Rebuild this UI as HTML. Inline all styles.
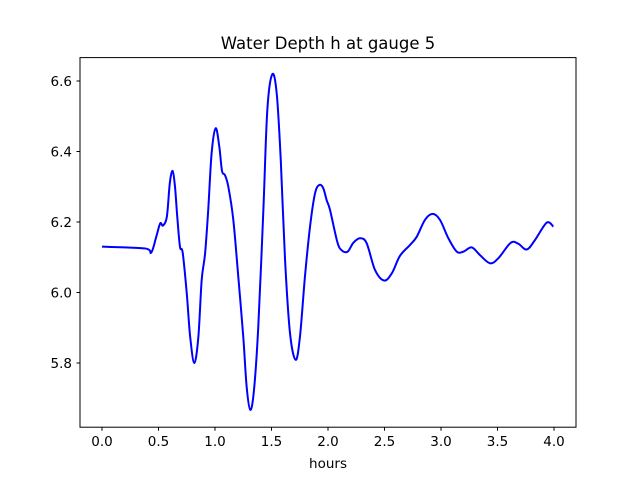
<!DOCTYPE html>
<html><head><meta charset="utf-8"><style>
body{margin:0;background:#fff}
svg text{font-family:"DejaVu Sans","Liberation Sans",sans-serif;fill:#000}
</style></head><body>
<svg width="640" height="480" viewBox="0 0 640 480">
<rect width="640" height="480" fill="#fff"/>
<text x="328" y="49" font-size="16.5" text-anchor="middle">Water Depth h at gauge 5</text>
<g id="axes"></g>
<path id="line" fill="none" stroke="#0000ff" stroke-width="2" stroke-linejoin="round"/>
<rect x="80" y="57.6" width="496" height="369.6" fill="none" stroke="#000" stroke-width="1"/>
<text x="328" y="468" font-size="13.5" text-anchor="middle">hours</text>
</svg>
<script>
const hours=[0,0.38,0.435,0.48,0.515,0.54,0.574,0.6,0.625,0.646,0.666,0.69,0.714,0.75,0.78,0.817,0.853,0.882,0.912,0.94,0.97,1.006,1.038,1.062,1.088,1.118,1.162,1.206,1.25,1.28,1.312,1.345,1.383,1.428,1.463,1.507,1.546,1.582,1.62,1.664,1.714,1.752,1.796,1.841,1.885,1.923,1.958,1.988,2.018,2.082,2.12,2.174,2.224,2.283,2.342,2.416,2.496,2.564,2.637,2.726,2.785,2.858,2.926,2.991,3.065,3.139,3.198,3.272,3.345,3.434,3.507,3.617,3.685,3.759,3.832,3.935,3.994];
const depth=[6.130,6.125,6.113,6.158,6.196,6.19,6.215,6.31,6.345,6.30,6.215,6.13,6.113,5.998,5.875,5.80,5.875,6.035,6.11,6.234,6.395,6.466,6.414,6.345,6.333,6.30,6.206,6.045,5.875,5.733,5.667,5.723,5.903,6.234,6.518,6.619,6.565,6.376,6.092,5.884,5.809,5.875,6.045,6.187,6.281,6.305,6.296,6.262,6.234,6.144,6.12,6.116,6.141,6.154,6.14,6.064,6.034,6.054,6.104,6.135,6.158,6.206,6.223,6.206,6.154,6.116,6.116,6.128,6.106,6.083,6.097,6.141,6.138,6.122,6.149,6.198,6.187];
const xTicks=[0,0.5,1,1.5,2,2.5,3,3.5,4];
const xTickLabels=["0.0","0.5","1.0","1.5","2.0","2.5","3.0","3.5","4.0"];
const yTicks=[5.8,6.0,6.2,6.4,6.6];
const yTickLabels=["5.8","6.0","6.2","6.4","6.6"];
const X=t=>102+t*113, Y=v=>292.5-(v-6.0)*352.5;
const NS="http://www.w3.org/2000/svg";
const ax=document.getElementById('axes');
xTicks.forEach((t,i)=>{
 const l=document.createElementNS(NS,'line');
 l.setAttribute('x1',X(t));l.setAttribute('x2',X(t));l.setAttribute('y1',427.2);l.setAttribute('y2',430.7);l.setAttribute('stroke','#000');
 
 
 ax.appendChild(l);
 const tx=document.createElementNS(NS,'text');
 tx.setAttribute('x',X(t));tx.setAttribute('y',446);tx.setAttribute('font-size','13.5');tx.setAttribute('text-anchor','middle');
 tx.textContent=xTickLabels[i];
 
 
 ax.appendChild(tx);
});
yTicks.forEach((v,i)=>{
 const l=document.createElementNS(NS,'line');
 l.setAttribute('x1',76.5);l.setAttribute('x2',80);l.setAttribute('y1',Y(v));l.setAttribute('y2',Y(v));l.setAttribute('stroke','#000');
 
 
 ax.appendChild(l);
 const tx=document.createElementNS(NS,'text');
 tx.setAttribute('x',72);tx.setAttribute('y',Y(v)+5);tx.setAttribute('font-size','13.5');tx.setAttribute('text-anchor','end');
 tx.textContent=yTickLabels[i];
 
 
 ax.appendChild(tx);
});
const P=hours.map((t,i)=>[X(t),Y(depth[i])]);
let d=`M${P[0][0]},${P[0][1]}`;
for(let i=0;i<P.length-1;i++){
 const p0=P[Math.max(0,i-1)],p1=P[i],p2=P[i+1],p3=P[Math.min(P.length-1,i+2)];
 const c1=[p1[0]+(p2[0]-p0[0])/6,p1[1]+(p2[1]-p0[1])/6];
 const c2=[p2[0]-(p3[0]-p1[0])/6,p2[1]-(p3[1]-p1[1])/6];
 d+=` C${c1[0]},${c1[1]} ${c2[0]},${c2[1]} ${p2[0]},${p2[1]}`;
}
document.getElementById('line').setAttribute('d',d);
</script>
</body></html>
